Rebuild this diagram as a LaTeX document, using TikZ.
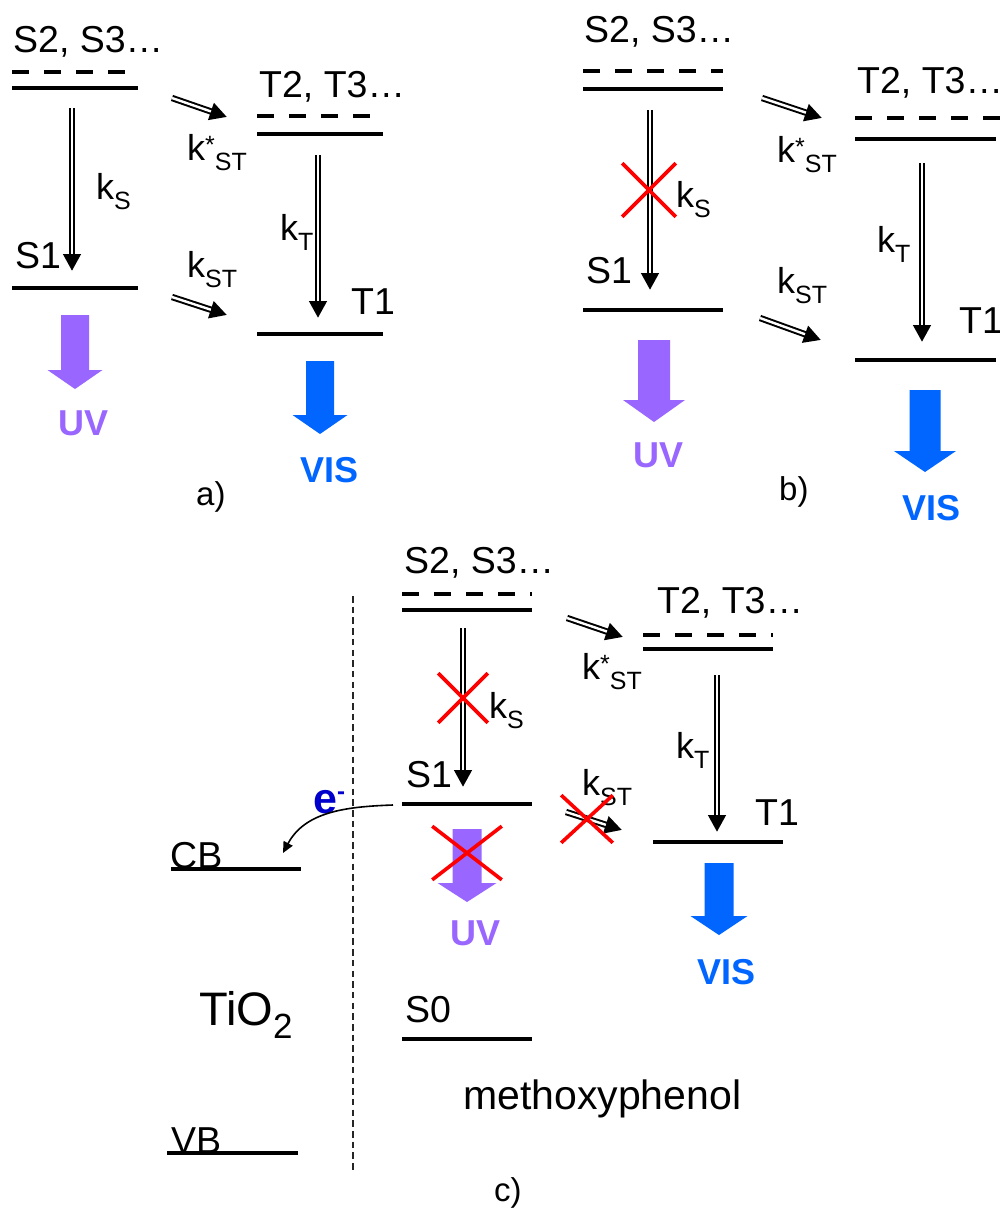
\documentclass[tikz,border=0pt]{standalone}
\usepackage{fontspec}
\setmainfont{Liberation Sans}
\usetikzlibrary{arrows.meta,shapes.misc}
\definecolor{uvc}{RGB}{153,102,255}
\definecolor{visc}{RGB}{0,102,255}
\definecolor{ec}{RGB}{0,0,204}
\definecolor{xred}{RGB}{255,0,0}
\newcommand{\kk}[1]{k\raisebox{-10pt}{\fontsize{25}{25}\selectfont #1}}
\newcommand{\kks}[1]{k\raisebox{7pt}{\fontsize{25}{25}\selectfont *}\raisebox{-10pt}{\fontsize{25}{25}\selectfont #1}}
% color, cx, top, headtop, tip, shaft half width, head half width
\newcommand{\bigdown}[7]{\fill[#1] (#2-#6,#3) -- (#2+#6,#3) -- (#2+#6,#4) -- (#2+#7,#4) -- (#2,#5) -- (#2-#7,#4) -- (#2-#6,#4) -- cycle;}
\newcommand{\dblarrow}[2]{\draw[dbl] (#1) -- (#2); \draw[dblin] (#1) -- (#2);}
\tikzset{
  level/.style={line width=3.2pt},
  dlevel/.style={line width=3.2pt, dash pattern=on 17pt off 15pt},
  dbl/.style={line width=6.4pt, -{Triangle[length=17pt,width=17pt]}},
  dblin/.style={white, line width=2.4pt, shorten >=17pt},
  lbl/.style={anchor=base west, inner sep=0pt, font=\fontsize{37.5}{37.5}\selectfont},
  klbl/.style={anchor=base west, inner sep=0pt, font=\fontsize{36}{36}\selectfont},
  uvt/.style={lbl, font=\fontsize{36}{36}\selectfont\bfseries, text=uvc},
  vist/.style={lbl, font=\fontsize{36}{36}\selectfont\bfseries, text=visc},
  plab/.style={lbl, font=\fontsize{33}{33}\selectfont},
  redx/.style={cross out, draw=xred, line width=3.6pt, inner sep=0pt},
}
\begin{document}
\begin{tikzpicture}[x=1pt,y=-1pt]
\fill[white] (0,0) rectangle (1000,1211);
\useasboundingbox (0,0) rectangle (1000,1211);

% ================= panel a =================
\draw[dlevel] (12,72) -- (127,72);
\draw[level] (12,88) -- (138,88);
\draw[level] (12,288) -- (138,288);
\draw[dlevel] (257,116) -- (372,116);
\draw[level] (257,134) -- (383,134);
\draw[level] (257,334) -- (383,334);
\node[lbl] (aS2) at (13,52) {S2, S3…};
\node[lbl] (aT2) at (259,97) {T2, T3…};
\node[lbl] (aS1) at (15,268) {S1};
\node[lbl] (aT1) at (351,314) {T1};
\node[klbl] (akS) at (96,199) {\kk{S}};
\node[klbl] (akT) at (280,240) {\kk{T}};
\node[klbl] (akST2) at (187,160) {\kks{ST}};
\node[klbl] (akST) at (187,277) {\kk{ST}};
\coordinate (aksA) at (72,108); \coordinate (aksB) at (72,271);
\coordinate (aktA) at (318,155); \coordinate (aktB) at (318,318);
\coordinate (akxA) at (172,98); \coordinate (akxB) at (227,117);
\coordinate (akyA) at (172,297); \coordinate (akyB) at (227,315);
\dblarrow{aksA}{aksB}
\dblarrow{aktA}{aktB}
\dblarrow{akxA}{akxB}
\dblarrow{akyA}{akyB}
\bigdown{uvc}{75}{315}{370}{389}{14}{27.5}
\bigdown{visc}{320}{361}{415}{434}{14}{27.5}
\node[uvt] (aUV) at (58,435) {UV};
\node[vist] (aVIS) at (300,482) {VIS};
\node[plab] (alab) at (196,505) {a)};

% ================= panel b =================
\draw[dlevel] (583,71) -- (723,71);
\draw[level] (583,89) -- (723,89);
\draw[level] (583,310) -- (723,310);
\draw[dlevel] (855,118) -- (1000,118);
\draw[level] (855,139) -- (996,139);
\draw[level] (855,360) -- (996,360);
\node[lbl] (bS2) at (584,42) {S2, S3…};
\node[lbl] (bT2) at (857,93) {T2, T3…};
\node[lbl] (bS1) at (586,283) {S1};
\node[lbl] (bT1) at (959,333) {T1};
\node[klbl] (bkS) at (676,207) {\kk{S}};
\node[klbl] (bkT) at (877,252) {\kk{T}};
\node[klbl] (bkST2) at (777,162) {\kks{ST}};
\node[klbl] (bkST) at (777,293) {\kk{ST}};
\coordinate (bksA) at (650,110); \coordinate (bksB) at (650,290);
\coordinate (bktA) at (922,163); \coordinate (bktB) at (922,342);
\coordinate (bkxA) at (762,98); \coordinate (bkxB) at (822,118);
\coordinate (bkyA) at (760,318); \coordinate (bkyB) at (821,340);
\dblarrow{bksA}{bksB}
\dblarrow{bktA}{bktB}
\dblarrow{bkxA}{bkxB}
\dblarrow{bkyA}{bkyB}
\node[redx, minimum width=50pt, minimum height=50pt] (bX) at (649,190) {};
\bigdown{uvc}{654}{340}{400}{422}{16}{31}
\bigdown{visc}{925}{390}{451}{472}{15.5}{31}
\node[uvt] (bUV) at (633,467) {UV};
\node[vist] (bVIS) at (902,520) {VIS};
\node[plab] (blab) at (779,500) {b)};

% ================= panel c =================
\draw[dlevel] (402,594) -- (532,594);
\draw[level] (402,610) -- (532,610);
\draw[level] (402,804) -- (532,804);
\draw[level] (402,1039) -- (532,1039);
\draw[dlevel] (643,635) -- (773,635);
\draw[level] (643,649) -- (773,649);
\draw[level] (653,842) -- (783,842);
\draw[level] (171,869) -- (301,869);
\draw[level] (167,1153) -- (298,1153);
\draw[line width=1.6pt, draw=black!85, dash pattern=on 6.5pt off 4.2pt] (353,596) -- (353,1173);
\node[lbl] (cS2) at (404,573) {S2, S3…};
\node[lbl] (cT2) at (657,613) {T2, T3…};
\node[lbl] (cS1) at (406,787) {S1};
\node[lbl] (cT1) at (755,825) {T1};
\node[lbl] (cS0) at (405,1022) {S0};
\node[lbl] (cCB) at (170,868) {CB};
\node[lbl] (cVB) at (171,1153) {VB};
\node[klbl] (ckS) at (489,718) {\kk{S}};
\node[klbl] (ckT) at (676,758) {\kk{T}};
\node[klbl] (ckST2) at (582,679) {\kks{ST}};
\node[klbl] (ckST) at (582,795) {\kk{ST}};
\coordinate (cksA) at (463,628); \coordinate (cksB) at (463,787);
\coordinate (cktA) at (717,675); \coordinate (cktB) at (717,832);
\coordinate (ckxA) at (567,618); \coordinate (ckxB) at (623,637);
\coordinate (ckyA) at (566,812); \coordinate (ckyB) at (622,830);
\dblarrow{cksA}{cksB}
\dblarrow{cktA}{cktB}
\dblarrow{ckxA}{ckxB}
\dblarrow{ckyA}{ckyB}
\bigdown{uvc}{467}{829}{883}{902}{14.5}{29.5}
\bigdown{visc}{719}{863}{916}{935}{14.5}{28.5}
\node[redx, minimum width=46pt, minimum height=46pt] (cX1) at (463,698) {};
\node[redx, minimum width=48pt, minimum height=44pt] (cX2) at (587,819) {};
\node[redx, minimum width=66pt, minimum height=50pt] (cX3) at (467,853) {};
\node[uvt] (cUV) at (450,945) {UV};
\node[vist] (cVIS) at (697,984) {VIS};
\node[lbl, font=\fontsize{47}{47}\selectfont] (ctio) at (199,1025) {TiO\raisebox{-13pt}{\fontsize{35}{35}\selectfont 2}};
\node[lbl, font=\fontsize{41}{41}\selectfont] (cmeth) at (463,1109) {methoxyphenol};
\node[plab] (clab) at (494,1201) {c)};
\node[lbl, font=\fontsize{43}{43}\selectfont\bfseries, text=ec] (cem) at (313,813) {e\raisebox{14pt}{\fontsize{24}{24}\selectfont -}};
\coordinate (ceA) at (393,805); \coordinate (ceB) at (283,853);
\draw[line width=1.6pt, -{Triangle[length=11pt,width=10pt]}] (ceA) to[out=182, in=62] (ceB);
\end{tikzpicture}
\end{document}
